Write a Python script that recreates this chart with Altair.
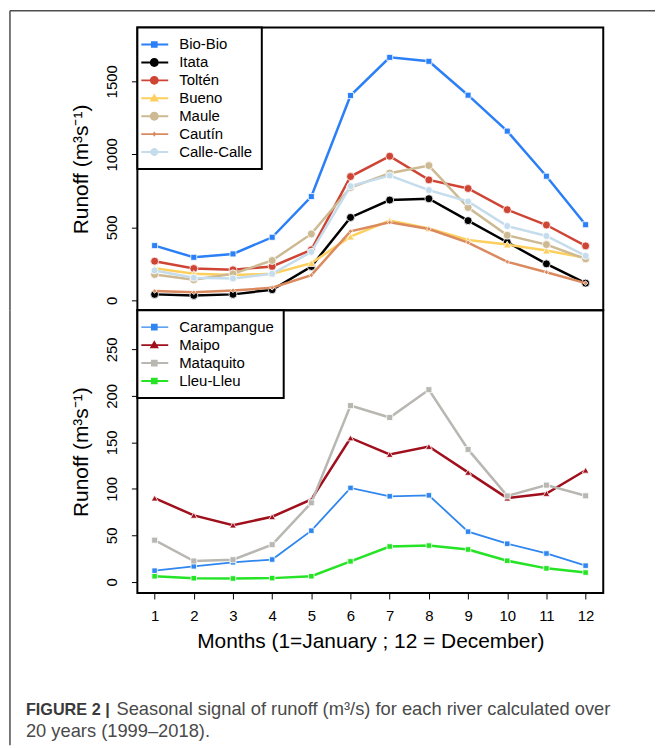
import altair as alt
import pandas as pd

months = list(range(1, 13))

top_rivers = ["Bio-Bio", "Itata", "Toltén", "Bueno", "Maule", "Cautín", "Calle-Calle"]
bio_bio = [375, 295, 318, 432, 711, 1403, 1664, 1637, 1405, 1159, 850, 518]
itata = [41, 34, 41, 73, 232, 568, 687, 696, 546, 398, 250, 118]
tolten = [268, 218, 209, 232, 346, 848, 987, 825, 766, 621, 516, 373]
bueno = [220, 182, 173, 182, 255, 436, 546, 493, 414, 382, 341, 291]
maule = [177, 141, 182, 273, 455, 773, 871, 923, 636, 446, 382, 284]
cautin = [64, 55, 68, 86, 173, 473, 534, 489, 396, 264, 193, 118]
calle_calle = [205, 155, 150, 182, 332, 782, 855, 755, 677, 509, 441, 305]
top_values = [bio_bio, itata, tolten, bueno, maule, cautin, calle_calle]

bottom_rivers = ["Carampangue", "Maipo", "Mataquito", "Lleu-Lleu"]
carampangue = [12, 16.7, 21, 24, 55, 101, 92, 93, 54, 41, 30.5, 17.4]
maipo = [90, 71.5, 61, 70, 88.6, 154.7, 137, 145.5, 117.7, 90, 95, 120]
mataquito = [44.8, 22.4, 23.8, 40, 85, 189.5, 176.7, 206.6, 142.4, 92.4, 104, 92.5]
lleu_lleu = [6, 3.9, 3.6, 4, 6, 22, 38, 39, 34.8, 22.7, 14.5, 10]
bottom_values = [carampangue, maipo, mataquito, lleu_lleu]

top_ticks = [0, 500, 1000, 1500]
bottom_ticks = [0, 50, 100, 150, 200, 250]

y_title = "Runoff (m³s⁻¹)"
x_title = "Months (1=January ; 12 = December)"
caption_bold = "FIGURE 2 |"
caption_line1 = "Seasonal signal of runoff (m³/s) for each river calculated over"
caption_line2 = "20 years (1999–2018)."

# styles
top_colors = ["#2B7FF7", "#000000", "#CF4535", "#FCCF5E", "#CDB992", "#DA8A5E", "#C5DCEC"]
top_shapes = ["square", "circle", "circle", "triangle-up", "circle", "diamond", "circle"]
top_sizes = [36, 64, 64, 60, 64, 22, 50]
top_widths = [2.5, 2.5, 2.5, 2.5, 2.5, 2.5, 2.5]
bottom_colors = ["#2F86EE", "#A0101C", "#B9B7B2", "#25E325"]
bottom_shapes = ["square", "triangle-up", "square", "square"]
bottom_sizes = [30, 45, 36, 30]
bottom_widths = [1.8, 2.5, 2.5, 2.5]

# legend glyphs: a thin filled bar (the line) plus the marker, all clockwise
LINE = "M-1.63,-0.12H1.75V0.12H-1.63Z"
LINE_THIN = "M-1.63,-0.08H1.75V0.08H-1.63Z"
SQ = "M-0.42,-0.42H0.42V0.42H-0.42Z"
CI = "M0.56,0A0.56,0.56,0,1,1,-0.56,0A0.56,0.56,0,1,1,0.56,0Z"
CI2 = "M0.5,0A0.5,0.5,0,1,1,-0.5,0A0.5,0.5,0,1,1,0.5,0Z"
TR = "M0,-0.6L0.58,0.4L-0.58,0.4Z"
DI = "M0,-0.32L0.26,0L0,0.32L-0.26,0Z"
top_leg_paths = [LINE + SQ, LINE + CI, LINE + CI, LINE + TR, LINE + CI, LINE + DI, LINE + CI2]
bottom_leg_paths = [LINE_THIN + SQ, LINE + TR, LINE + SQ, LINE + SQ]

FONT = "Liberation Sans"


def long_df(names, values):
    rows = []
    for n, vals in zip(names, values):
        for m, v in zip(months, vals):
            rows.append({"month": m, "value": v, "river": n})
    return pd.DataFrame(rows)


def panel(names, values, colors, shapes, sizes, widths, leg_paths, ydomain, yticks, show_x, extras):
    df = long_df(names, values)
    xaxis = alt.Axis(values=months, title=x_title, tickSize=6, tickColor="black",
                     labelFontSize=15, labelFont=FONT, labelColor="black", labelPadding=10,
                     labelFlush=False, titleFontSize=21, titleFont=FONT,
                     titleFontWeight="normal", titleColor="black", titlePadding=7,
                     domain=False, grid=False) if show_x else None
    x = alt.X("month:Q", scale=alt.Scale(domain=[0.56, 12.45], nice=False, zero=False), axis=xaxis)
    y = alt.Y("value:Q", scale=alt.Scale(domain=ydomain, nice=False, zero=False),
              axis=alt.Axis(values=yticks, format="d", title=y_title, labelAngle=270, tickSize=6,
                            tickColor="black", labelFontSize=15, labelFont=FONT,
                            labelColor="black", labelPadding=12, titleFontSize=21,
                            titleFont=FONT, titleFontWeight="normal", titleColor="black",
                            titlePadding=13, domain=False, grid=False))
    base = alt.Chart(df)
    layers = []
    for n, c, s, z, w in zip(names, colors, shapes, sizes, widths):
        sub = base.transform_filter(alt.datum.river == n)
        layers.append(sub.mark_line(color=c, strokeWidth=w).encode(x=x, y=y))
        layers.append(sub.mark_point(filled=True, opacity=1, fill=c, stroke="white",
                                     strokeWidth=0.8, shape=s, size=z).encode(x=x, y=y))
    leg = alt.Legend(title=None, orient="top-left", offset=0, padding=9, symbolSize=256,
                     symbolStrokeWidth=0, labelFontSize=15, labelFont=FONT, labelColor="black",
                     labelOffset=17, rowPadding=2, strokeColor="black", fillColor="white",
                     symbolOpacity=1)
    legend_layer = base.transform_filter("datum.month < 0").mark_point(filled=True, opacity=1).encode(
        x=x, y=y,
        color=alt.Color("river:N", scale=alt.Scale(domain=names, range=colors), legend=leg),
        shape=alt.Shape("river:N", scale=alt.Scale(domain=names, range=leg_paths), legend=leg),
    )
    return alt.layer(*layers, legend_layer, *extras)


one = pd.DataFrame({"a": [0]})
frame_style = dict(color="#4d4d4d", strokeWidth=1.5)

top_frame_h = alt.Chart(one).mark_rule(**frame_style).encode(
    x=alt.value(-128), x2=alt.value(520), y=alt.value(-17))
top_frame_v = alt.Chart(one).mark_rule(**frame_style).encode(
    x=alt.value(-128), y=alt.value(-17), y2=alt.value(284))
top = panel(top_rivers, top_values, top_colors, top_shapes, top_sizes, top_widths,
            top_leg_paths, [-68, 1868], top_ticks, False,
            [top_frame_h, top_frame_v]).properties(width=468, height=284)

bot_frame_v = alt.Chart(one).mark_rule(**frame_style).encode(
    x=alt.value(-128), y=alt.value(0), y2=alt.value(437))
cap_df = pd.DataFrame({"b": [caption_bold], "l1": [caption_line1], "l2": [caption_line2]})
cap_b = alt.Chart(cap_df).mark_text(align="left", baseline="alphabetic", font=FONT, fontSize=16.3,
                                    fontWeight="bold", color="#3a3a3a").encode(
    text="b:N", x=alt.value(-112), y=alt.value(407))
cap_1 = alt.Chart(cap_df).mark_text(align="left", baseline="alphabetic", font=FONT, fontSize=18.4,
                                    color="#4a4a4a").encode(
    text="l1:N", x=alt.value(-21), y=alt.value(407))
cap_2 = alt.Chart(cap_df).mark_text(align="left", baseline="alphabetic", font=FONT, fontSize=18.4,
                                    color="#4a4a4a").encode(
    text="l2:N", x=alt.value(-112), y=alt.value(428.5))
bottom = panel(bottom_rivers, bottom_values, bottom_colors, bottom_shapes, bottom_sizes,
               bottom_widths, bottom_leg_paths, [-12, 292], bottom_ticks, True,
               [bot_frame_v, cap_b, cap_1, cap_2]).properties(width=468, height=284)

chart = alt.vconcat(top, bottom, spacing=0, bounds="flush").resolve_scale(
    color="independent", shape="independent"
).properties(
    padding={"left": 8, "top": 7, "right": 0, "bottom": 0}
).configure_view(stroke="black", strokeWidth=2).configure_legend(strokeWidth=2)

chart.save("out.html", embed_options={"renderer": "svg", "actions": False})
